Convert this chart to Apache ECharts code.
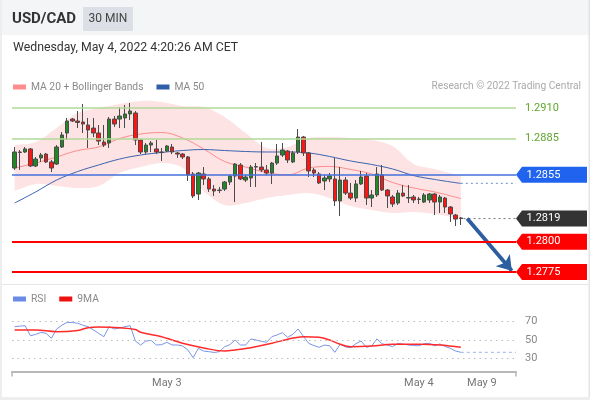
<!DOCTYPE html>
<html><head><meta charset="utf-8">
<script src="https://cdn.jsdelivr.net/npm/echarts@6/dist/echarts.min.js"></script>
<style>html,body{margin:0;padding:0;background:#fff;}#c{width:590px;height:400px;}</style>
</head><body><div id="c"></div>
<script>
// ---------- data ----------
const N = 96; // slots on the time axis (86 candles + projection space)
const opens  = [1.28606,1.28734,1.28738,1.28763,1.28623,1.28689,1.28721,1.28656,1.28639,1.28779,1.28894,1.29009,1.28993,1.28985,1.28960,1.28935,1.28894,1.28820,1.28812,1.29009,1.29009,1.29018,1.29051,1.29059,1.28837,1.28738,1.28795,1.28763,1.28738,1.28746,1.28779,1.28730,1.28721,1.28697,1.28557,1.28392,1.28557,1.28516,1.28433,1.28421,1.28433,1.28491,1.28540,1.28631,1.28507,1.28524,1.28614,1.28614,1.28590,1.28565,1.28647,1.28713,1.28746,1.28656,1.28738,1.28861,1.28730,1.28590,1.28557,1.28499,1.28516,1.28516,1.28335,1.28507,1.28400,1.28359,1.28475,1.28540,1.28359,1.28384,1.28549,1.28425,1.28368,1.28318,1.28400,1.28359,1.28368,1.28351,1.28326,1.28343,1.28392,1.28326,1.28359,1.28285,1.28219,1.28195];
const closes = [1.28738,1.28738,1.28763,1.28623,1.28680,1.28713,1.28656,1.28606,1.28779,1.28878,1.28993,1.28993,1.28981,1.28968,1.28919,1.28894,1.28828,1.28795,1.29009,1.28968,1.29034,1.29051,1.29075,1.28837,1.28738,1.28795,1.28812,1.28738,1.28734,1.28787,1.28738,1.28721,1.28697,1.28549,1.28376,1.28565,1.28516,1.28433,1.28417,1.28425,1.28491,1.28540,1.28639,1.28516,1.28532,1.28614,1.28618,1.28590,1.28565,1.28647,1.28705,1.28754,1.28672,1.28730,1.28861,1.28730,1.28582,1.28565,1.28483,1.28524,1.28540,1.28335,1.28507,1.28400,1.28359,1.28475,1.28532,1.28359,1.28384,1.28557,1.28425,1.28376,1.28310,1.28400,1.28376,1.28363,1.28343,1.28347,1.28384,1.28392,1.28326,1.28368,1.28285,1.28228,1.28186,1.28190];
const lows   = [1.28590,1.28590,1.28730,1.28614,1.28614,1.28656,1.28647,1.28573,1.28631,1.28771,1.28837,1.28985,1.28935,1.28894,1.28771,1.28861,1.28795,1.28779,1.28771,1.28944,1.28935,1.28935,1.29001,1.28795,1.28721,1.28721,1.28738,1.28721,1.28664,1.28738,1.28721,1.28689,1.28680,1.28499,1.28359,1.28343,1.28466,1.28409,1.28376,1.28400,1.28417,1.28466,1.28326,1.28507,1.28491,1.28450,1.28450,1.28573,1.28549,1.28475,1.28631,1.28697,1.28647,1.28647,1.28721,1.28705,1.28532,1.28532,1.28475,1.28425,1.28491,1.28293,1.28211,1.28384,1.28343,1.28326,1.28466,1.28302,1.28285,1.28368,1.28417,1.28277,1.28285,1.28302,1.28368,1.28318,1.28318,1.28310,1.28318,1.28318,1.28219,1.28236,1.28236,1.28162,1.28129,1.28137];
const highs  = [1.28779,1.28754,1.28779,1.28771,1.28697,1.28730,1.28730,1.28672,1.28795,1.28902,1.29018,1.29018,1.29075,1.29133,1.29018,1.29018,1.28960,1.28960,1.29026,1.29034,1.29108,1.29125,1.29141,1.29075,1.28845,1.28812,1.28828,1.28837,1.28771,1.28795,1.28804,1.28738,1.28730,1.28705,1.28573,1.28573,1.28614,1.28532,1.28466,1.28450,1.28499,1.28549,1.28647,1.28647,1.28549,1.28631,1.28647,1.28820,1.28631,1.28656,1.28804,1.28812,1.28754,1.28746,1.28927,1.28870,1.28738,1.28606,1.28573,1.28549,1.28565,1.28689,1.28614,1.28532,1.28483,1.28507,1.28582,1.28565,1.28425,1.28614,1.28631,1.28433,1.28384,1.28425,1.28466,1.28466,1.28384,1.28368,1.28400,1.28400,1.28400,1.28384,1.28368,1.28293,1.28228,1.28203];

const lineIdx = [0,4,8,12,16,20,24,28,32,36,40,44,48,52,56,60,64,68,72,76,80,85];
const ma20    = [1.28606,1.28647,1.28697,1.28750,1.28779,1.28849,1.28886,1.28898,1.28853,1.28763,1.28660,1.28614,1.28569,1.28549,1.28606,1.28619,1.28594,1.28557,1.28487,1.28442,1.28409,1.28355];
const bbUpper = [1.28795,1.28820,1.28935,1.29059,1.29100,1.29133,1.29158,1.29149,1.29116,1.29108,1.29026,1.28894,1.28771,1.28779,1.28853,1.28861,1.28853,1.28837,1.28787,1.28639,1.28598,1.28540];
const bbLower = [1.28417,1.28475,1.28458,1.28442,1.28458,1.28565,1.28614,1.28647,1.28606,1.28417,1.28302,1.28318,1.28359,1.28384,1.28400,1.28359,1.28293,1.28261,1.28236,1.28244,1.28228,1.28187];
const ma50    = [1.28318,1.28409,1.28507,1.28577,1.28631,1.28680,1.28713,1.28734,1.28750,1.28758,1.28750,1.28742,1.28738,1.28738,1.28730,1.28701,1.28664,1.28635,1.28598,1.28544,1.28512,1.28479];

const rsi = [64.4,65,65.5,54.6,56,58.3,57.2,51.8,61.9,66,69.1,69,68.1,66,64.4,61,57.2,53.6,64.4,61.9,63,64.4,65.5,48.9,44.6,48.9,49.5,44.6,45,47.5,44.6,44.6,43.5,39.2,30.9,41,38,37.4,36.5,37.4,42.8,45,50,44.6,44.6,51.1,50,48.5,47.5,53.6,55.5,57.9,52.9,56.2,61.9,54,46.4,44,42.1,44.5,43.8,36.7,45.4,42.5,41.7,46,48.9,42.1,43.5,51.1,46,44.5,42.8,46.4,45.5,44.6,44,43.8,46,46.4,43.8,45.7,43,41,38.1,36.7];
const rsiMaIdx = [0,4,8,12,14,16,20,23,24,27,29,32,36,40,42,45,49,52,55,58,60,62,64,68,72,77,81,85];
const rsiMa    = [60.8,60.8,59,60.3,63.3,64,63.3,61.4,58.3,54.9,51.8,46.4,41.4,38.1,39.2,41.7,46.4,50.8,53.6,52.9,50,45.4,42.8,43.5,45.4,45.4,44.6,42.1];
const rsiLevels = [70,50,30];

const levels     = [1.2910,1.2885,1.2855,1.2819,1.2800,1.2775];
const levelKinds = ['res','res','ma','last','sup','sup'];
const tickIdx  = [29,77,89];
const tickText = ['May 3','May 4','May 9'];
const arrowFrom = [86.2, 1.2819];
const arrowTo   = [94.7, 1.2776];

// ---------- options ----------
const FONT = 'Roboto, "Liberation Sans", sans-serif';
const cats = Array.from({length:N},(_,i)=>String(i));
const pairs = (idx, vals) => idx.map((x,k)=>[x, vals[k]]);
const lastIdx = opens.length - 1;
const RIGHT = N - 0.5;

const levelColor = {res:'#b2d89a', ma:'#4470dc', sup:'#ff0000'};
const tagColor = {ma:'#1f63ee', last:'#333333', sup:'#ff0000'};

const markLines = [];
const tags = [];
levels.forEach((v,k)=>{
  const kind = levelKinds[k];
  if (kind !== 'last') {
    markLines.push({
      yAxis: v,
      lineStyle:{color: levelColor[kind], width: kind==='sup'?2:1.5, type:'solid'},
      label: kind==='res'
        ? {show:true, position:'end', distance:9, formatter: v.toFixed(4), color:'#5fa52d', fontSize:11, fontFamily:FONT}
        : {show:false}
    });
  }
  if (kind !== 'res') {
    tags.push({name: v.toFixed(4), coord:[RIGHT, v], itemStyle:{color: tagColor[kind]}});
  }
});

const txt = (text, x, y, font, fill, align) => ({
  type:'text', x:x, y:y, z:10,
  style:{text:text, font:font, fill:fill, textAlign:align||'left', align:align||'left', textVerticalAlign:'middle', verticalAlign:'middle'}
});

// Bollinger band polygon (upper forward, lower backward), corners doubled to keep ends square
function bandItem(params, api) {
  const up = lineIdx.map((x,k)=>api.coord([x, bbUpper[k]]));
  const lo = lineIdx.map((x,k)=>api.coord([x, bbLower[k]])).reverse();
  const pts = [up[0]].concat(up, [up[up.length-1]], [lo[0]], lo, [lo[lo.length-1]]);
  return {type:'polygon', shape:{points:pts, smooth:0.35}, style:{fill:'#fde3e3'}, silent:true};
}

const option = {
  backgroundColor:'#ffffff',
  animation:false,
  textStyle:{fontFamily:FONT},
  graphic:[
    {type:'rect', shape:{x:0,y:0,width:590,height:35}, style:{fill:'#f4f5f7'}, z:1},
    {type:'rect', shape:{x:83,y:7,width:50,height:24}, style:{fill:'#dcdfe5'}, z:2},
    {type:'line', shape:{x1:2,y1:284.5,x2:588,y2:284.5}, style:{stroke:'#e6e6e6', lineWidth:1}, z:2},
    {type:'rect', shape:{x:0,y:0,width:2,height:400}, style:{fill:'#eeeeee'}, z:2},
    {type:'rect', shape:{x:588.5,y:0,width:1.5,height:400}, style:{fill:'#e4e4e4'}, z:2},
    {type:'rect', shape:{x:0,y:397,width:590,height:3}, style:{fill:'#eeeeee'}, z:2},
    txt('USD/CAD', 12, 19, 'bold 15px '+FONT, '#333333'),
    txt('30 MIN', 108, 19, '12px '+FONT, '#444444', 'center'),
    txt('Wednesday, May 4, 2022 4:20:26 AM CET', 13, 48, '12.3px '+FONT, '#333333'),
    txt('Research \u00a9 2022 Trading Central', 581, 86, '10.2px '+FONT, '#aaaaaa', 'right')
  ],
  legend:[
    {left:13, top:82, padding:0, orient:'horizontal', icon:'rect', itemWidth:13, itemHeight:5, itemGap:13, selectedMode:false,
     textStyle:{color:'#8a8a8a', fontSize:10.3, fontFamily:FONT},
     data:[{name:'MA 20 + Bollinger Bands', itemStyle:{color:'#ff8c8c'}},{name:'MA 50', itemStyle:{color:'#2f5fa8'}}]},
    {left:13, top:294, padding:0, orient:'horizontal', icon:'rect', itemWidth:13, itemHeight:5, itemGap:13, selectedMode:false,
     textStyle:{color:'#8a8a8a', fontSize:10.3, fontFamily:FONT},
     data:[{name:'RSI', itemStyle:{color:'#6a8be6'}},{name:'9MA', itemStyle:{color:'#ee1111'}}]}
  ],
  grid:[
    {left:12, right:74, top:94.635, height:188.33},
    {left:12, right:74, top:308.55, height:62.9}
  ],
  xAxis:[
    {type:'category', gridIndex:0, data:cats, show:false, boundaryGap:true},
    {type:'value', gridIndex:0, min:-0.5, max:RIGHT, show:false},
    {type:'category', gridIndex:1, data:cats, boundaryGap:true,
     axisLine:{show:true, lineStyle:{color:'#b8b8b8', width:2}},
     axisTick:{show:true, length:5, interval:(i)=>i===0, lineStyle:{color:'#b8b8b8', width:1.5}},
     axisLabel:{show:true, interval:(i)=>tickIdx.indexOf(i)>=0, formatter:(v,i)=>{const k=tickIdx.indexOf(i);return k>=0?tickText[k]:'';},
                color:'#777777', fontSize:11, fontFamily:FONT, margin:6},
     splitLine:{show:false}},
    {type:'value', gridIndex:1, min:-0.5, max:RIGHT, show:false}
  ],
  yAxis:[
    {type:'value', gridIndex:0, min:1.2766, max:1.2921, show:false, splitLine:{show:false}},
    {type:'value', gridIndex:1, min:16, max:84, show:false, splitLine:{show:false}}
  ],
  series:[
    {name:'band', type:'custom', xAxisIndex:1, yAxisIndex:0, data:[[lineIdx[0], bbLower[0]]],
     renderItem:bandItem, silent:true, z:1},
    {name:'MA 20 + Bollinger Bands', type:'line', xAxisIndex:1, yAxisIndex:0, data:pairs(lineIdx,ma20),
     symbol:'none', smooth:0.4, lineStyle:{color:'#ff8c8c', width:1}, itemStyle:{color:'#ff8c8c'}, z:2},
    {name:'MA 50', type:'line', xAxisIndex:1, yAxisIndex:0, data:pairs(lineIdx,ma50),
     symbol:'none', smooth:0.4, lineStyle:{color:'#3a63b0', width:1}, itemStyle:{color:'#2f5fa8'}, z:2},
    {name:'ma50ext', type:'line', xAxisIndex:1, yAxisIndex:0, data:[[lineIdx[lineIdx.length-1], ma50[ma50.length-1]],[RIGHT, ma50[ma50.length-1]]],
     symbol:'none', lineStyle:{color:'#8aa2d8', width:1.2, type:[2,3]}, z:2},
    {name:'levels', type:'line', xAxisIndex:1, yAxisIndex:0,
     data:[[lastIdx+0.5, levels[3]],[RIGHT, levels[3]]],
     symbol:'none', lineStyle:{color:'#777777', width:1, type:[2,3]}, z:2.5,
     markLine:{silent:true, symbol:['none','none'], animation:false, precision:6, data:markLines},
     markPoint:{silent:true, symbol:'path://M0,8L6,0L71,0L71,16L6,16Z', symbolSize:[71,16], symbolOffset:[35.5,0],
       symbolKeepAspect:false, animation:false,
       label:{show:true, position:'inside', formatter:'{b}', color:'#ffffff', fontSize:11, fontFamily:FONT, offset:[-8,0]},
       data:tags}},
    {name:'candles', type:'candlestick', xAxisIndex:0, yAxisIndex:0,
     data: opens.map((o,i)=>[o, closes[i], lows[i], highs[i]]),
     barWidth:4,
     itemStyle:{color:'#1f8a24', color0:'#ff1414', borderColor:'#4a4a4a', borderColor0:'#4a4a4a', borderWidth:1},
     z:3},
    {name:'arrow', type:'lines', coordinateSystem:'cartesian2d', xAxisIndex:1, yAxisIndex:0,
     symbol:['none','arrow'], symbolSize:14, silent:true,
     lineStyle:{color:'#2d5e9f', width:3.8, opacity:1, curveness:0},
     data:[{coords:[arrowFrom, arrowTo]}], z:4},
    {name:'RSI', type:'line', xAxisIndex:3, yAxisIndex:1, data:rsi.map((v,i)=>[i,v]),
     symbol:'none', lineStyle:{color:'#7a95e8', width:1}, itemStyle:{color:'#6a8be6'}, z:3,
     markLine:{silent:true, symbol:['none','none'], animation:false,
       lineStyle:{color:'#bdbdbd', width:1, type:[1.5,4]},
       label:{show:true, position:'end', distance:9, color:'#888888', fontSize:11, fontFamily:FONT},
       data: rsiLevels.map(v=>({yAxis:v, label:{formatter:String(v)}}))}},
    {name:'rsiext', type:'line', xAxisIndex:3, yAxisIndex:1, data:[[lastIdx, rsi[lastIdx]],[RIGHT, rsi[lastIdx]]],
     symbol:'none', lineStyle:{color:'#9fb2ea', width:1, type:[3,3]}, z:3},
    {name:'9MA', type:'line', xAxisIndex:3, yAxisIndex:1, data:pairs(rsiMaIdx,rsiMa),
     symbol:'none', smooth:0.4, lineStyle:{color:'#ff2a2a', width:1.5}, itemStyle:{color:'#ee1111'}, z:4}
  ]
};
const chart = echarts.init(document.getElementById('c'), null, {renderer:'canvas'});
chart.setOption(option);
</script></body></html>
